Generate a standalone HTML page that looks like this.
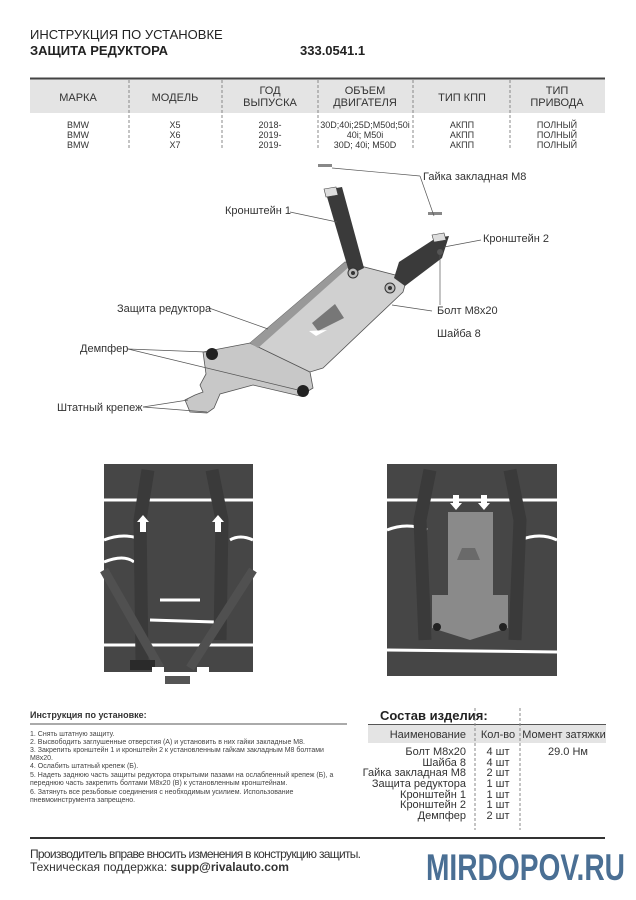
<!DOCTYPE html>
<html><head><meta charset="utf-8"><style>
body{margin:0;background:#fff;width:636px;height:900px;overflow:hidden;position:relative;font-family:"Liberation Sans","DejaVu Sans",sans-serif;color:#222}
.a{position:absolute;white-space:nowrap}
</style></head><body>
<div class="a" style="left:30px;top:27px;font-size:13px">ИНСТРУКЦИЯ ПО УСТАНОВКЕ</div>
<div class="a" style="left:30px;top:43px;font-size:13px;font-weight:bold">ЗАЩИТА РЕДУКТОРА</div>
<div class="a" style="left:300px;top:43px;font-size:13px;font-weight:bold">333.0541.1</div>

<svg class="a" style="left:0;top:0" width="636" height="900" xmlns="http://www.w3.org/2000/svg" font-family="Liberation Sans, DejaVu Sans, sans-serif">
<rect x="30" y="79" width="575" height="34" fill="#e4e4e4"/>
<line x1="30" y1="78.5" x2="605" y2="78.5" stroke="#444" stroke-width="2"/>
<g stroke="#888" stroke-dasharray="3,2">
<line x1="129" y1="80" x2="129" y2="150"/><line x1="222" y1="80" x2="222" y2="150"/><line x1="318" y1="80" x2="318" y2="150"/><line x1="413" y1="80" x2="413" y2="150"/><line x1="510" y1="80" x2="510" y2="150"/>
</g>
<g font-size="11" text-anchor="middle" fill="#333">
<text x="78" y="101">МАРКА</text><text x="175" y="101">МОДЕЛЬ</text>
<text x="270" y="94">ГОД</text><text x="270" y="106">ВЫПУСКА</text>
<text x="365" y="94">ОБЪЕМ</text><text x="365" y="106">ДВИГАТЕЛЯ</text>
<text x="462" y="101">ТИП КПП</text>
<text x="557" y="94">ТИП</text><text x="557" y="106">ПРИВОДА</text>
</g>
<g font-size="9" text-anchor="middle" fill="#333">
<text x="78" y="128">BMW</text><text x="78" y="138">BMW</text><text x="78" y="148">BMW</text>
<text x="175" y="128">X5</text><text x="175" y="138">X6</text><text x="175" y="148">X7</text>
<text x="270" y="128">2018-</text><text x="270" y="138">2019-</text><text x="270" y="148">2019-</text>
<text x="365" y="128">30D;40i;25D;M50d;50i</text><text x="365" y="138">40i; M50i</text><text x="365" y="148">30D; 40i; M50D</text>
<text x="462" y="128">АКПП</text><text x="462" y="138">АКПП</text><text x="462" y="148">АКПП</text>
<text x="557" y="128">ПОЛНЫЙ</text><text x="557" y="138">ПОЛНЫЙ</text><text x="557" y="148">ПОЛНЫЙ</text>
</g>

<!-- diagram -->
<polygon points="203,352 250,343 310,372 313,388 300,396 253,385 220,394 214,408 207,413 190,412 185,400 195,395 203,392 200,385 206,374" fill="#c8c8c8" stroke="#555" stroke-width="0.8"/>
<polygon points="250,343 345,262 407,278 403,292 323,368 310,372" fill="#d0d0d0" stroke="#555" stroke-width="0.8"/>
<polygon points="250,343 345,262 350,266 258,348" fill="#999"/>
<polygon points="312,323 335,304 344,318 318,331" fill="#777"/>
<polygon points="309,331 327,330 316,336" fill="#fff"/>
<polygon points="325,190 342,187 364,268 350,275" fill="#3a3a3a"/>
<polygon points="324,189 336,187 338,195 326,197" fill="#ddd" stroke="#444" stroke-width="0.6"/>
<polygon points="436,238 449,236 442,258 405,286 394,278 399,262" fill="#3a3a3a"/>
<polygon points="432,235 444,233 446,240 434,242" fill="#ddd" stroke="#444" stroke-width="0.6"/>
<circle cx="353" cy="273" r="5" fill="#bbb" stroke="#333"/><circle cx="353" cy="273" r="2" fill="#333"/>
<circle cx="390" cy="288" r="5" fill="#bbb" stroke="#333"/><circle cx="390" cy="288" r="2" fill="#333"/>
<circle cx="212" cy="354" r="6" fill="#222"/><circle cx="303" cy="391" r="6" fill="#222"/>
<rect x="318" y="164" width="14" height="3" fill="#888"/><rect x="428" y="212" width="14" height="3" fill="#888"/>
<circle cx="440" cy="252" r="3" fill="#555"/>
<g stroke="#555" stroke-width="0.7" fill="none">
<polyline points="332,168 420,176"/><polyline points="420,176 434,216"/>
<line x1="290" y1="212" x2="337" y2="222"/>
<line x1="444" y1="247" x2="481" y2="240"/>
<line x1="440" y1="255" x2="440" y2="305"/>
<line x1="392" y1="305" x2="432" y2="311"/>
<line x1="209" y1="308" x2="268" y2="329"/>
<line x1="128" y1="349" x2="206" y2="352"/><line x1="128" y1="349" x2="298" y2="390"/>
<line x1="143" y1="407" x2="188" y2="400"/><line x1="143" y1="407" x2="207" y2="412"/>
</g>
<g font-size="11" fill="#333">
<text x="423" y="180">Гайка закладная М8</text>
<text x="225" y="214">Кронштейн 1</text>
<text x="483" y="242">Кронштейн 2</text>
<text x="437" y="314">Болт М8х20</text>
<text x="437" y="337">Шайба 8</text>
<text x="117" y="312">Защита редуктора</text>
<text x="80" y="352">Демпфер</text>
<text x="57" y="411">Штатный крепеж</text>
</g>

<!-- photos -->
<g>
<rect x="104" y="464" width="149" height="208" fill="#464646"/>
<path d="M104,500 L253,500 M104,540 q20,-8 40,0 M104,562 q20,-8 30,0 M160,600 L200,600 M150,620 L215,622 M104,645 L253,645 M230,540 q10,-6 23,0" stroke="#fff" stroke-width="3" fill="none"/>
<path d="M148,470 L140,520 L142,660 M212,470 L222,520 L220,640" stroke="#3a3a3a" stroke-width="13" fill="none"/>
<path d="M104,570 L160,668 M253,570 L190,668" stroke="#505050" stroke-width="9"/>
<rect x="130" y="660" width="25" height="10" fill="#2a2a2a"/>
<rect x="165" y="676" width="25" height="8" fill="#555"/>
<polygon points="143,515 137,522 140,522 140,532 146,532 146,522 149,522" fill="#fff"/>
<polygon points="218,515 212,522 215,522 215,532 221,532 221,522 224,522" fill="#fff"/>
<rect x="152" y="667" width="12" height="6" fill="#fff"/><rect x="197" y="667" width="12" height="6" fill="#fff"/>
<rect x="387" y="464" width="170" height="212" fill="#464646"/>
<path d="M387,500 L557,500 M387,530 q20,-8 40,0 M520,540 q20,-8 37,0 M387,650 L557,652" stroke="#fff" stroke-width="3" fill="none"/>
<path d="M430,470 L420,520 L425,640 M510,470 L520,520 L515,640" stroke="#3a3a3a" stroke-width="13" fill="none"/>
<polygon points="448,512 493,512 493,595 508,595 508,628 470,640 432,628 432,595 448,595" fill="#8a8a8a"/>
<polygon points="462,548 475,548 480,560 457,560" fill="#6a6a6a"/>
<circle cx="437" cy="627" r="4" fill="#222"/><circle cx="503" cy="627" r="4" fill="#222"/>
<polygon points="456,510 450,503 453,503 453,495 459,495 459,503 462,503" fill="#fff"/>
<polygon points="484,510 478,503 481,503 481,495 487,495 487,503 490,503" fill="#fff"/>
</g>

<!-- bottom -->
<text x="30" y="718" font-size="9" font-weight="bold" fill="#333">Инструкция по установке:</text>
<line x1="30" y1="724" x2="347" y2="724" stroke="#555" stroke-width="1"/>
<g font-size="7" fill="#444">
<text x="30" y="736">1. Снять штатную защиту.</text>
<text x="30" y="744">2. Высвободить заглушенные отверстия (А) и установить в них гайки закладные М8.</text>
<text x="30" y="752">3. Закрепить кронштейн 1 и кронштейн 2 к установленным гайкам закладным М8 болтами</text>
<text x="30" y="760">М8х20.</text>
<text x="30" y="768">4. Ослабить штатный крепеж (Б).</text>
<text x="30" y="777">5. Надеть заднюю часть защиты редуктора открытыми пазами на ослабленный крепеж (Б), а</text>
<text x="30" y="785">переднюю часть закрепить болтами М8х20 (В) к установленным кронштейнам.</text>
<text x="30" y="794">6. Затянуть все резьбовые соединения с необходимым усилием. Использование</text>
<text x="30" y="802">пневмоинструмента запрещено.</text>
</g>
<text x="380" y="720" font-size="13" font-weight="bold" fill="#222">Состав изделия:</text>
<rect x="368" y="725" width="238" height="18" fill="#e4e4e4"/>
<line x1="368" y1="724.5" x2="606" y2="724.5" stroke="#555"/>
<g stroke="#888" stroke-dasharray="3,2"><line x1="475" y1="708" x2="475" y2="830"/><line x1="520" y1="708" x2="520" y2="830"/></g>
<g font-size="11" fill="#333">
<text x="466" y="738" text-anchor="end">Наименование</text>
<text x="498" y="738" text-anchor="middle">Кол-во</text>
<text x="564" y="738" text-anchor="middle">Момент затяжки</text>
<g text-anchor="end">
<text x="466" y="755">Болт М8х20</text><text x="466" y="766">Шайба 8</text><text x="466" y="776">Гайка закладная М8</text><text x="466" y="787">Защита редуктора</text><text x="466" y="798">Кронштейн 1</text><text x="466" y="808">Кронштейн 2</text><text x="466" y="819">Демпфер</text>
</g>
<g text-anchor="middle">
<text x="498" y="755">4 шт</text><text x="498" y="766">4 шт</text><text x="498" y="776">2 шт</text><text x="498" y="787">1 шт</text><text x="498" y="798">1 шт</text><text x="498" y="808">1 шт</text><text x="498" y="819">2 шт</text>
<text x="568" y="755">29.0 Нм</text>
</g>
</g>
<line x1="30" y1="838" x2="605" y2="838" stroke="#333" stroke-width="2"/>
<text x="30" y="858" font-size="12" fill="#333" textLength="331">Производитель вправе вносить изменения в конструкцию защиты.</text>
<text x="30" y="871" font-size="12" fill="#333">Техническая поддержка: <tspan font-weight="bold">supp@rivalauto.com</tspan></text>
<text x="426" y="880" font-size="37" font-weight="bold" fill="#4a6f94" textLength="199" lengthAdjust="spacingAndGlyphs">MIRDOPOV.RU</text>
</svg>
</body></html>
